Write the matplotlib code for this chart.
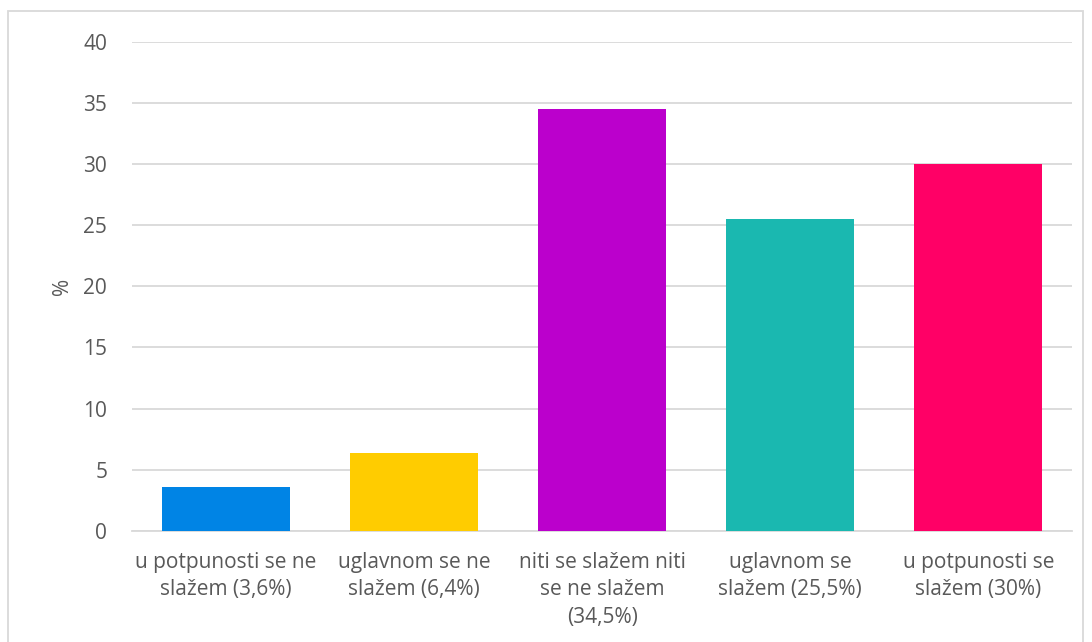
import matplotlib.pyplot as plt
from matplotlib.patches import Rectangle

# data
categories = ['u potpunosti se ne\nslažem (3,6%)', 'uglavnom se ne\nslažem (6,4%)',
              'niti se slažem niti\nse ne slažem\n(34,5%)', 'uglavnom se\nslažem (25,5%)',
              'u potpunosti se\nslažem (30%)']
values = [3.6, 6.4, 34.5, 25.5, 30.0]
colors = ['#0084E5', '#FFCC00', '#BB00CC', '#1AB8B0', '#FF0066']
yticks = [0, 5, 10, 15, 20, 25, 30, 35, 40]

plt.rcParams['font.family'] = ['Open Sans', 'DejaVu Sans']
txt = '#595959'
fs = 15

fig = plt.figure(figsize=(10.92, 6.42), dpi=100)
ax = fig.add_axes([0.121, 0.173, 0.861, 0.762])

x = list(range(len(values)))
ax.bar(x, values, width=0.68, color=colors, zorder=3)

ax.set_ylim(0, 40)
ax.set_xlim(-0.5, len(values) - 0.5)
ax.set_yticks(yticks)
ax.set_xticks(x)
ax.set_xticklabels(categories, fontsize=fs, color=txt, linespacing=1.4)
ax.tick_params(axis='y', labelsize=fs, labelcolor=txt, length=0, pad=18)
ax.tick_params(axis='x', length=0, pad=15)
ax.grid(axis='y', color='#D9D9D9', linewidth=1.3, zorder=0)
for s in ['top', 'right', 'left']:
    ax.spines[s].set_visible(False)
ax.spines['bottom'].set_color('#D9D9D9')
ax.spines['bottom'].set_linewidth(1.3)
ax.set_ylabel('%', fontsize=fs, color=txt, labelpad=7)

# outer chart border
fig.patches.append(Rectangle((8 / 1092, -0.01), 1075 / 1092, 1 - 11 / 642 + 0.01,
                             transform=fig.transFigure, fill=False,
                             edgecolor='#D9D9D9', linewidth=1.3))

fig.savefig('out.png', dpi=100)
